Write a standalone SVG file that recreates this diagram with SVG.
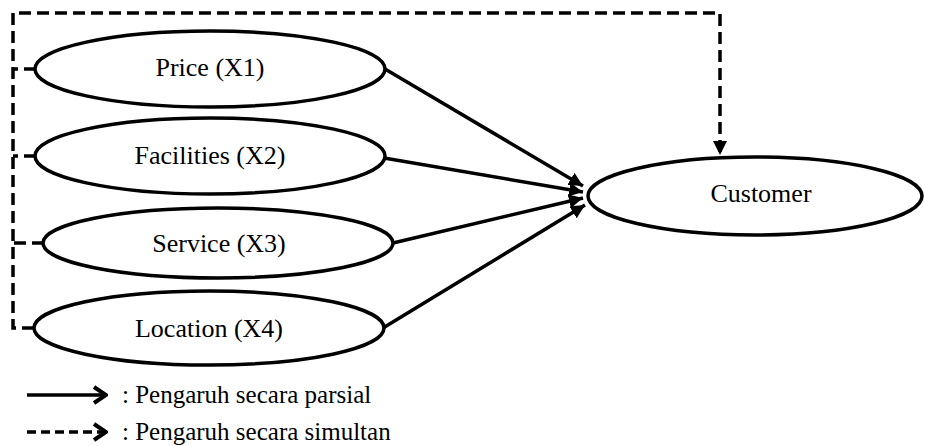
<svg xmlns="http://www.w3.org/2000/svg" width="925" height="446" viewBox="0 0 925 446">
  <style>
    .node ellipse { fill: #fff; stroke: #000; stroke-width: 3.5; }
    .node text { font-size: 26px; fill: #000; text-anchor: middle; }
    .link { fill: none; stroke: #000; stroke-width: 3.5; }
    .dash { stroke-dasharray: 12 6; }
    .legend text { font-size: 25px; fill: #000; }
  </style>
  <defs>
    <marker id="tri" markerUnits="userSpaceOnUse" viewBox="0 0 14 14" refX="14" refY="7" markerWidth="14" markerHeight="14" orient="auto">
      <path d="M0,0 L14,7 L0,14 Z" fill="#000"/>
    </marker>
    <marker id="chev" markerUnits="userSpaceOnUse" viewBox="0 0 16 20" refX="14" refY="10" markerWidth="16" markerHeight="20" orient="auto">
      <path d="M2,2 L14,10 L2,18" fill="none" stroke="#000" stroke-width="4"/>
    </marker>
  </defs>

  <!-- connectors -->
  <g id="connectors">
    <!-- simultaneous influence: dashed bracket on the left feeding the top line -->
    <path class="link dash" d="M36,69 H13 M36,156 H13 M44,243 H13 M34,328 H13 V13 H720 V155" marker-end="url(#tri)"/>
    <!-- partial influences -->
    <line class="link" x1="385" y1="69" x2="583" y2="186" marker-end="url(#tri)"/>
    <line class="link" x1="384" y1="158" x2="583" y2="192" marker-end="url(#tri)"/>
    <line class="link" x1="393" y1="243" x2="583" y2="198" marker-end="url(#tri)"/>
    <line class="link" x1="383" y1="328" x2="585" y2="205" marker-end="url(#tri)"/>
  </g>

  <g font-family="Liberation Serif, Tinos, DejaVu Serif, serif">
    <g id="price" class="node">
      <ellipse cx="210" cy="69" rx="175" ry="38"/>
      <text x="210" y="76">Price (X1)</text>
    </g>
    <g id="facilities" class="node">
      <ellipse cx="210" cy="156" rx="175" ry="38"/>
      <text x="210" y="164">Facilities (X2)</text>
    </g>
    <g id="service" class="node">
      <ellipse cx="218" cy="243" rx="175" ry="35"/>
      <text x="219" y="252">Service (X3)</text>
    </g>
    <g id="location" class="node">
      <ellipse cx="209" cy="328" rx="175" ry="37"/>
      <text x="209" y="337">Location (X4)</text>
    </g>
    <g id="customer" class="node">
      <ellipse cx="755" cy="196" rx="167" ry="39"/>
      <text x="761" y="202">Customer</text>
    </g>

    <!-- key -->
    <g class="legend">
      <line class="link" x1="27" y1="395" x2="106" y2="395" marker-end="url(#chev)"/>
      <line class="link" x1="27" y1="432" x2="106" y2="432" marker-end="url(#chev)" stroke-dasharray="9 5"/>
      <text x="122" y="403">: Pengaruh secara parsial</text>
      <text x="122" y="440">: Pengaruh secara simultan</text>
    </g>
  </g>
</svg>
